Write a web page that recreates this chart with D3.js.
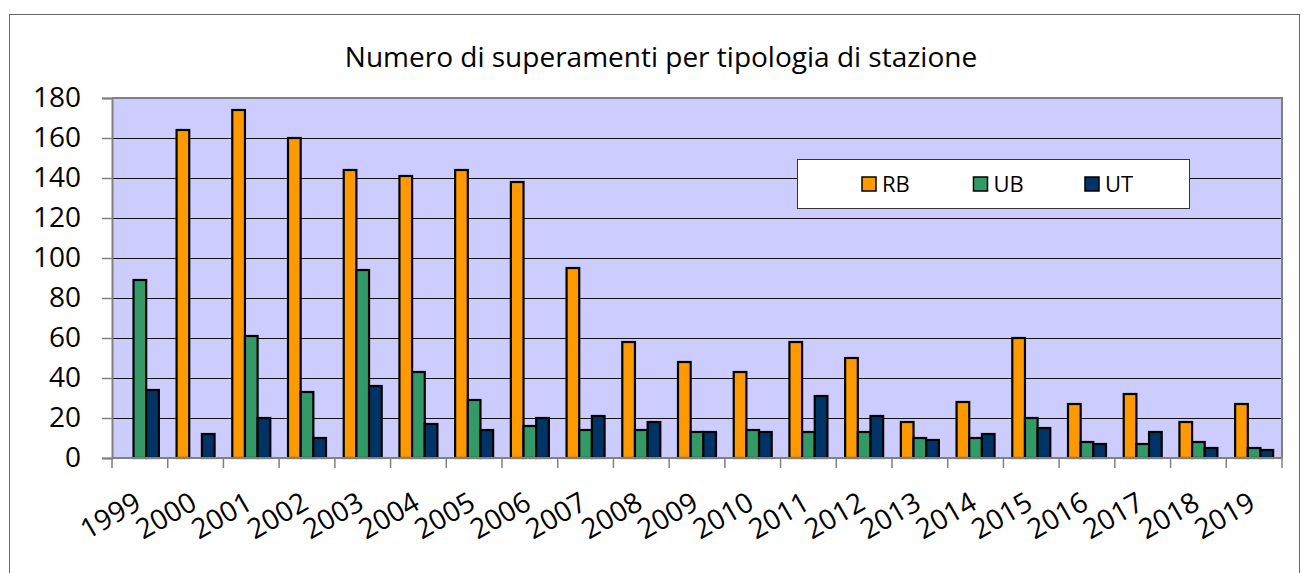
<!DOCTYPE html>
<html>
<head>
<meta charset="utf-8">
<script src="https://cdn.jsdelivr.net/npm/d3@7"></script>
<style>
  body { margin: 0; background: #fff; }
  svg { display: block; font-family: "Open Sans", sans-serif; }
</style>
</head>
<body>
<svg id="chart" width="1308" height="573"></svg>
<script>
var years = ['1999','2000','2001','2002','2003','2004','2005','2006','2007','2008','2009',
             '2010','2011','2012','2013','2014','2015','2016','2017','2018','2019'];
var seriesNames = ['RB', 'UB', 'UT'];
var rb = [0, 164, 174, 160, 144, 141, 144, 138, 95, 58, 48, 43, 58, 50, 18, 28, 60, 27, 32, 18, 27];
var ub = [89, 0, 61, 33, 94, 43, 29, 16, 14, 14, 13, 14, 13, 13, 10, 10, 20, 8, 7, 8, 5];
var ut = [34, 12, 20, 10, 36, 17, 14, 20, 21, 18, 13, 13, 31, 21, 9, 12, 15, 7, 13, 5, 4];
var yTicks = [0, 20, 40, 60, 80, 100, 120, 140, 160, 180];
var colors = {RB: '#ff9900', UB: '#339966', UT: '#003366'};
var title = 'Numero di superamenti per tipologia di stazione';

var svg = d3.select('#chart');
var W = 1308, H = 573;
var plot = {left: 112, right: 1282, top: 98, bottom: 458};

svg.append('rect').attr('width', W).attr('height', H).attr('fill', '#fff');
// chart border
svg.append('rect')
    .attr('x', 9.5).attr('y', 14.5)
    .attr('width', 1290).attr('height', 580)
    .attr('fill', 'none').attr('stroke', '#666').attr('stroke-width', 1);

var x = d3.scaleBand().domain(years).range([plot.left, plot.right])
    .paddingInner(0.318).paddingOuter(0.159);
var xs = d3.scaleBand().domain(seriesNames).range([0, x.bandwidth()]);
var y = d3.scaleLinear().domain([0, 180]).range([plot.bottom, plot.top]);

// plot area
svg.append('rect')
    .attr('x', plot.left).attr('y', plot.top)
    .attr('width', plot.right - plot.left).attr('height', plot.bottom - plot.top)
    .attr('fill', '#ccccff');

// gridlines
svg.append('g').selectAll('line')
    .data(yTicks.filter(function(d) { return d > 0 && d < 180; }))
    .enter().append('line')
      .attr('x1', plot.left).attr('x2', plot.right)
      .attr('y1', function(d) { return y(d) + 0.5; })
      .attr('y2', function(d) { return y(d) + 0.5; })
      .attr('stroke', '#111').attr('stroke-width', 1.2);

// plot border (top/right)
svg.append('path')
    .attr('d', 'M' + plot.left + ',' + plot.top + 'H' + plot.right + 'V' + plot.bottom)
    .attr('fill', 'none').attr('stroke', '#808080').attr('stroke-width', 2);

// bars
var rows = years.map(function(yr, i) {
  return {year: yr, values: [{k: 'RB', v: rb[i]}, {k: 'UB', v: ub[i]}, {k: 'UT', v: ut[i]}]};
});
var groups = svg.append('g').selectAll('g')
    .data(rows).enter().append('g')
      .attr('transform', function(d) { return 'translate(' + x(d.year) + ',0)'; });
groups.selectAll('rect')
    .data(function(d) { return d.values.filter(function(e) { return e.v > 0; }); })
    .enter().append('rect')
      .attr('x', function(d) { return xs(d.k); })
      .attr('y', function(d) { return y(d.v); })
      .attr('width', xs.bandwidth())
      .attr('height', function(d) { return y(0) - y(d.v); })
      .attr('fill', function(d) { return colors[d.k]; })
      .attr('stroke', '#000').attr('stroke-width', 2.2);

// y axis
var yAxis = svg.append('g')
    .attr('transform', 'translate(' + plot.left + ',0)')
    .call(d3.axisLeft(y).tickValues(yTicks).tickSize(10).tickPadding(21));
yAxis.select('.domain').attr('stroke', '#808080').attr('stroke-width', 2);
yAxis.selectAll('.tick line').attr('stroke', '#808080').attr('stroke-width', 1.5);
yAxis.selectAll('text').attr('font-size', 28).attr('fill', '#000')
    .attr('font-family', '"Open Sans", sans-serif');

// x axis line and boundary ticks
var gap = (x.step() - x.bandwidth()) / 2;
var bounds = years.map(function(yr) { return x(yr) - gap; }).concat([plot.right]);
svg.append('line')
    .attr('x1', plot.left).attr('x2', plot.right)
    .attr('y1', plot.bottom).attr('y2', plot.bottom)
    .attr('stroke', '#808080').attr('stroke-width', 2);
svg.append('g').selectAll('line')
    .data(bounds).enter().append('line')
      .attr('x1', function(d) { return d; }).attr('x2', function(d) { return d; })
      .attr('y1', plot.bottom).attr('y2', plot.bottom + 10)
      .attr('stroke', '#808080').attr('stroke-width', 1.5);

// x labels
svg.append('g').selectAll('text')
    .data(years).enter().append('text')
      .attr('transform', function(d) {
        return 'translate(' + (x(d) + x.bandwidth() / 2 + 3) + ',508) rotate(-30)';
      })
      .attr('text-anchor', 'end')
      .attr('font-size', 28)
      .text(function(d) { return d; });

// title
svg.append('text')
    .attr('x', 661).attr('y', 67)
    .attr('text-anchor', 'middle')
    .attr('font-size', 28)
    .text(title);

// legend
var legend = svg.append('g');
legend.append('rect')
    .attr('x', 797.5).attr('y', 159.5).attr('width', 392).attr('height', 49)
    .attr('fill', '#fff').attr('stroke', '#333').attr('stroke-width', 1);
var lx = d3.scalePoint().domain(seriesNames).range([862, 1085]);
var item = legend.selectAll('g.item')
    .data(seriesNames).enter().append('g')
      .attr('transform', function(d) { return 'translate(' + lx(d) + ',177)'; });
item.append('rect')
    .attr('width', 14).attr('height', 14)
    .attr('fill', function(d) { return colors[d]; })
    .attr('stroke', '#000').attr('stroke-width', 1.5);
item.append('text')
    .attr('x', 20).attr('y', 15)
    .attr('font-size', 22)
    .text(function(d) { return d; });
</script>
</body>
</html>
